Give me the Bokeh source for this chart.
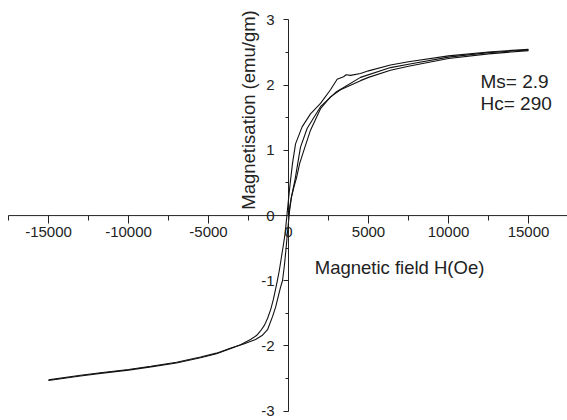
from bokeh.plotting import figure
from bokeh.models import Range1d, LinearAxis, SingleIntervalTicker, Label, NumeralTickFormatter
from bokeh.embed import file_html
from bokeh.resources import INLINE
import math

# Descending branch (from +15000 Oe down to -15000 Oe)
desc_H = [15000, 12500, 10000, 7500, 6375, 5000, 4500, 3875, 3600, 3440, 3040, 2625, 2000, 1375, 850, 440,
          250, 125, 0, -100, -200, -300, -450, -580, -700, -800, -950, -1100, -1300, -1500, -1750, -2000, -2375,
          -3000, -3600, -4500, -5500, -7000, -8600, -10000, -11750, -13000, -15000]
desc_M = [2.55, 2.51, 2.45, 2.36, 2.31, 2.22, 2.18, 2.15, 2.16, 2.13, 2.09, 1.93, 1.72, 1.56, 1.36, 1.10,
          0.80, 0.54, 0.25, 0.00, -0.25, -0.42, -0.65, -0.85, -1.00, -1.12, -1.29, -1.43, -1.57, -1.68, -1.77, -1.84, -1.90,
          -1.98, -2.04, -2.12, -2.18, -2.26, -2.32, -2.37, -2.42, -2.46, -2.53]

# Ascending branch (from -15000 Oe up to +15000 Oe)
asc_H = [-15000, -13000, -11750, -10000, -8600, -7000, -5500, -4500, -3600, -2800, -2060, -1650, -1310,
         -1000, -800, -690, -500, -375, -250, -150, -80, 0, 80, 200, 350, 500, 700, 960, 1375, 2000,
         2625, 3250, 4500, 5000, 6375, 7500, 10000, 12500, 15000]
asc_M = [-2.52, -2.45, -2.41, -2.36, -2.31, -2.25, -2.17, -2.11, -2.03, -1.97, -1.90, -1.84, -1.75,
         -1.55, -1.40, -1.29, -1.10, -1.00, -0.75, -0.50, -0.30, -0.10, 0.10, 0.30, 0.45, 0.58, 0.80, 1.00,
         1.31, 1.64, 1.82, 1.93, 2.07, 2.12, 2.23, 2.29, 2.41, 2.48, 2.53]

# Initial magnetisation curve
init_H = [0, 150, 400, 750, 1170, 2000, 3000, 4500, 6375, 7500, 10000, 12500, 15000]
init_M = [0.0, 0.25, 0.54, 1.05, 1.34, 1.67, 1.90, 2.12, 2.27, 2.32, 2.43, 2.50, 2.54]

# axis extents (data units)
x_axis_extent = [-17500, 17500]
y_axis_extent = [-3, 3]

x_title = "Magnetic field H(Oe)"
y_title = "Magnetisation (emu/gm)"
notes = ["Ms= 2.9", "Hc= 290"]

FONT = "Liberation Sans"
INK = "#222222"

p = figure(width=567, height=420, x_range=Range1d(-18000, 17437.5), y_range=Range1d(-3.143, 3.299),
           x_axis_type=None, y_axis_type=None, output_backend="svg", toolbar_location=None,
           min_border_left=0, min_border_right=0, min_border_top=0, min_border_bottom=0)
p.outline_line_color = None
p.xgrid.visible = False
p.ygrid.visible = False

xa = LinearAxis(ticker=SingleIntervalTicker(interval=5000, num_minor_ticks=2), fixed_location=0,
                formatter=NumeralTickFormatter(format="0"))
ya = LinearAxis(ticker=SingleIntervalTicker(interval=1, num_minor_ticks=2), fixed_location=0,
                formatter=NumeralTickFormatter(format="0"))
for ax in (xa, ya):
    ax.axis_line_color = None
    ax.major_tick_line_color = INK
    ax.minor_tick_line_color = INK
    ax.major_tick_in = 0
    ax.minor_tick_in = 0
    ax.major_label_text_font = FONT
    ax.major_label_text_font_size = "15px"
    ax.major_label_text_color = INK
xa.major_tick_out = 8
xa.minor_tick_out = 5
xa.major_label_standoff = 3
ya.major_tick_out = 5
ya.minor_tick_out = 3
ya.major_label_standoff = 9
p.add_layout(xa, "below")
p.add_layout(ya, "left")

# axis lines limited to their extents
p.segment(x0=[x_axis_extent[0], 0], y0=[0, y_axis_extent[0]],
          x1=[x_axis_extent[1], 0], y1=[0, y_axis_extent[1]], line_color=INK, line_width=1)

for hs, ms in ((desc_H, desc_M), (asc_H, asc_M), (init_H, init_M)):
    p.line(hs, ms, line_color="#111111", line_width=1.1)

p.add_layout(Label(x=6940, y=-0.79, text=x_title, text_align="center", text_baseline="alphabetic",
                   text_font=FONT, text_font_size="18.5px", text_color=INK))
p.add_layout(Label(x=-2500, y=1.62, text=y_title, angle=math.pi / 2, text_align="center",
                   text_baseline="alphabetic", text_font=FONT, text_font_size="18.5px", text_color=INK))
p.add_layout(Label(x=12000, y=2.06, text=notes[0], text_align="left", text_baseline="alphabetic",
                   text_font=FONT, text_font_size="19px", text_color=INK))
p.add_layout(Label(x=12000, y=1.72, text=notes[1], text_align="left", text_baseline="alphabetic",
                   text_font=FONT, text_font_size="19px", text_color=INK))

open("out.html", "w").write(file_html(p, INLINE))
